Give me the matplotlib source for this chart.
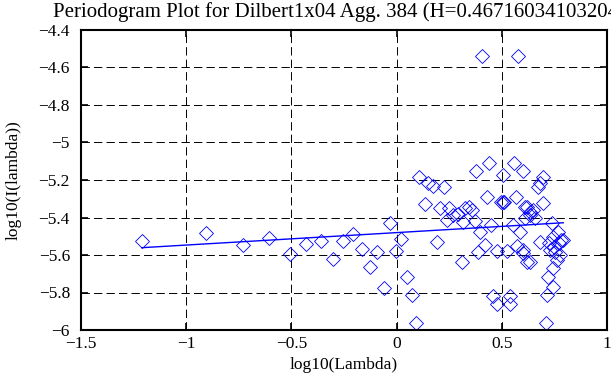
import matplotlib
matplotlib.use("Agg")
import matplotlib.pyplot as plt

# log10(Lambda) / log10(I(lambda)) pairs
log_lambda = [-1.211, -0.906, -0.731, -0.608, -0.507,
              -0.431, -0.361, -0.304, -0.253, -0.209, -0.166, -0.126, -0.095, -0.060,
              -0.031, -0.003, 0.021, 0.048, 0.072, 0.092,
              0.105, 0.151, 0.172, 0.227, 0.135, 0.206, 0.250, 0.238, 0.267, 0.293,
              0.325, 0.346, 0.357, 0.317, 0.373, 0.193, 0.312, 0.376, 0.439, 0.428,
              0.396, 0.420, 0.388, 0.447, 0.476, 0.504, 0.495, 0.504, 0.512, 0.526,
              0.558, 0.602, 0.566, 0.555, 0.587, 0.574, 0.602, 0.618, 0.460, 0.476,
              0.539, 0.539, 0.610, 0.407, 0.578,
              0.697, 0.682, 0.674, 0.697, 0.618, 0.634, 0.650, 0.610, 0.634, 0.658,
              0.737, 0.682, 0.599, 0.634, 0.765, 0.741, 0.781, 0.725, 0.749, 0.773,
              0.729, 0.753, 0.776, 0.790, 0.761, 0.745, 0.721, 0.741, 0.713, 0.710]
log_power = [-5.525, -5.481, -5.547, -5.508, -5.595,
             -5.543, -5.525, -5.623, -5.524, -5.490, -5.566, -5.666, -5.582, -5.774,
             -5.431, -5.579, -5.517, -5.716, -5.813, -5.964,
             -5.186, -5.214, -5.232, -5.236, -5.328, -5.348, -5.351, -5.413, -5.387, -5.381,
             -5.351, -5.342, -5.360, -5.422, -5.417, -5.532, -5.636, -5.150, -5.111, -5.289,
             -5.476, -5.547, -5.582, -5.440, -5.579, -5.173, -5.319, -5.319, -5.319, -5.579,
             -5.111, -5.150, -5.289, -5.440, -5.476, -5.552, -5.588, -5.636, -5.819, -5.861,
             -5.819, -5.861, -5.342, -4.539, -4.539,
             -5.182, -5.218, -5.236, -5.324, -5.342, -5.369, -5.360, -5.404, -5.387, -5.404,
             -5.431, -5.529, -5.573, -5.636, -5.476, -5.502, -5.520, -5.538, -5.556, -5.538,
             -5.573, -5.582, -5.600, -5.520, -5.627, -5.671, -5.716, -5.769, -5.813, -5.964]

# end points of the least squares fit line
fit_x = [-1.211, 0.792]
fit_y = [-5.561, -5.428]

title = "Periodogram Plot for Dilbert1x04 Agg. 384 (H=0.467160341032049)"

plt.rcParams['font.family'] = ['Liberation Serif', 'DejaVu Serif']
plt.rcParams['font.size'] = 12.5
plt.rcParams['lines.scale_dashes'] = False

fig = plt.figure(figsize=(6.11, 3.85), dpi=100)
ax = fig.add_axes([81 / 611, 55 / 385, 526 / 611, 300 / 385])

ax.plot(log_lambda, log_power, linestyle='none', marker='D', markersize=7,
        markerfacecolor='none', markeredgecolor='blue', markeredgewidth=0.6)
ax.plot(fit_x, fit_y, color='blue', linewidth=1.0)

ax.set_xlim(-1.5, 1)
ax.set_ylim(-6, -4.4)
ax.set_xticks([-1.5, -1, -0.5, 0, 0.5, 1])
ax.set_xticklabels(['\u22121.5', '\u22121', '\u22120.5', '0', '0.5', '1'])
yt = [-6, -5.8, -5.6, -5.4, -5.2, -5, -4.8, -4.6, -4.4]
ax.set_yticks(yt)
ax.set_yticklabels([('%g' % v).replace('-', '\u2212') for v in yt])

ax.grid(True, color='black', linestyle=(0, (6, 3)), linewidth=0.7)
ax.tick_params(direction='in', top=True, right=True, length=5, width=1.2)
ax.tick_params(axis='x', pad=4)
ax.tick_params(axis='y', pad=8)
for s in ax.spines.values():
    s.set_linewidth(1.5)

ax.set_title(title, pad=9)
ax.set_xlabel('log10(Lambda)', labelpad=4)
ax.set_ylabel('log10(I(lambda))', labelpad=12)

fig.savefig('out.png', dpi=100)
